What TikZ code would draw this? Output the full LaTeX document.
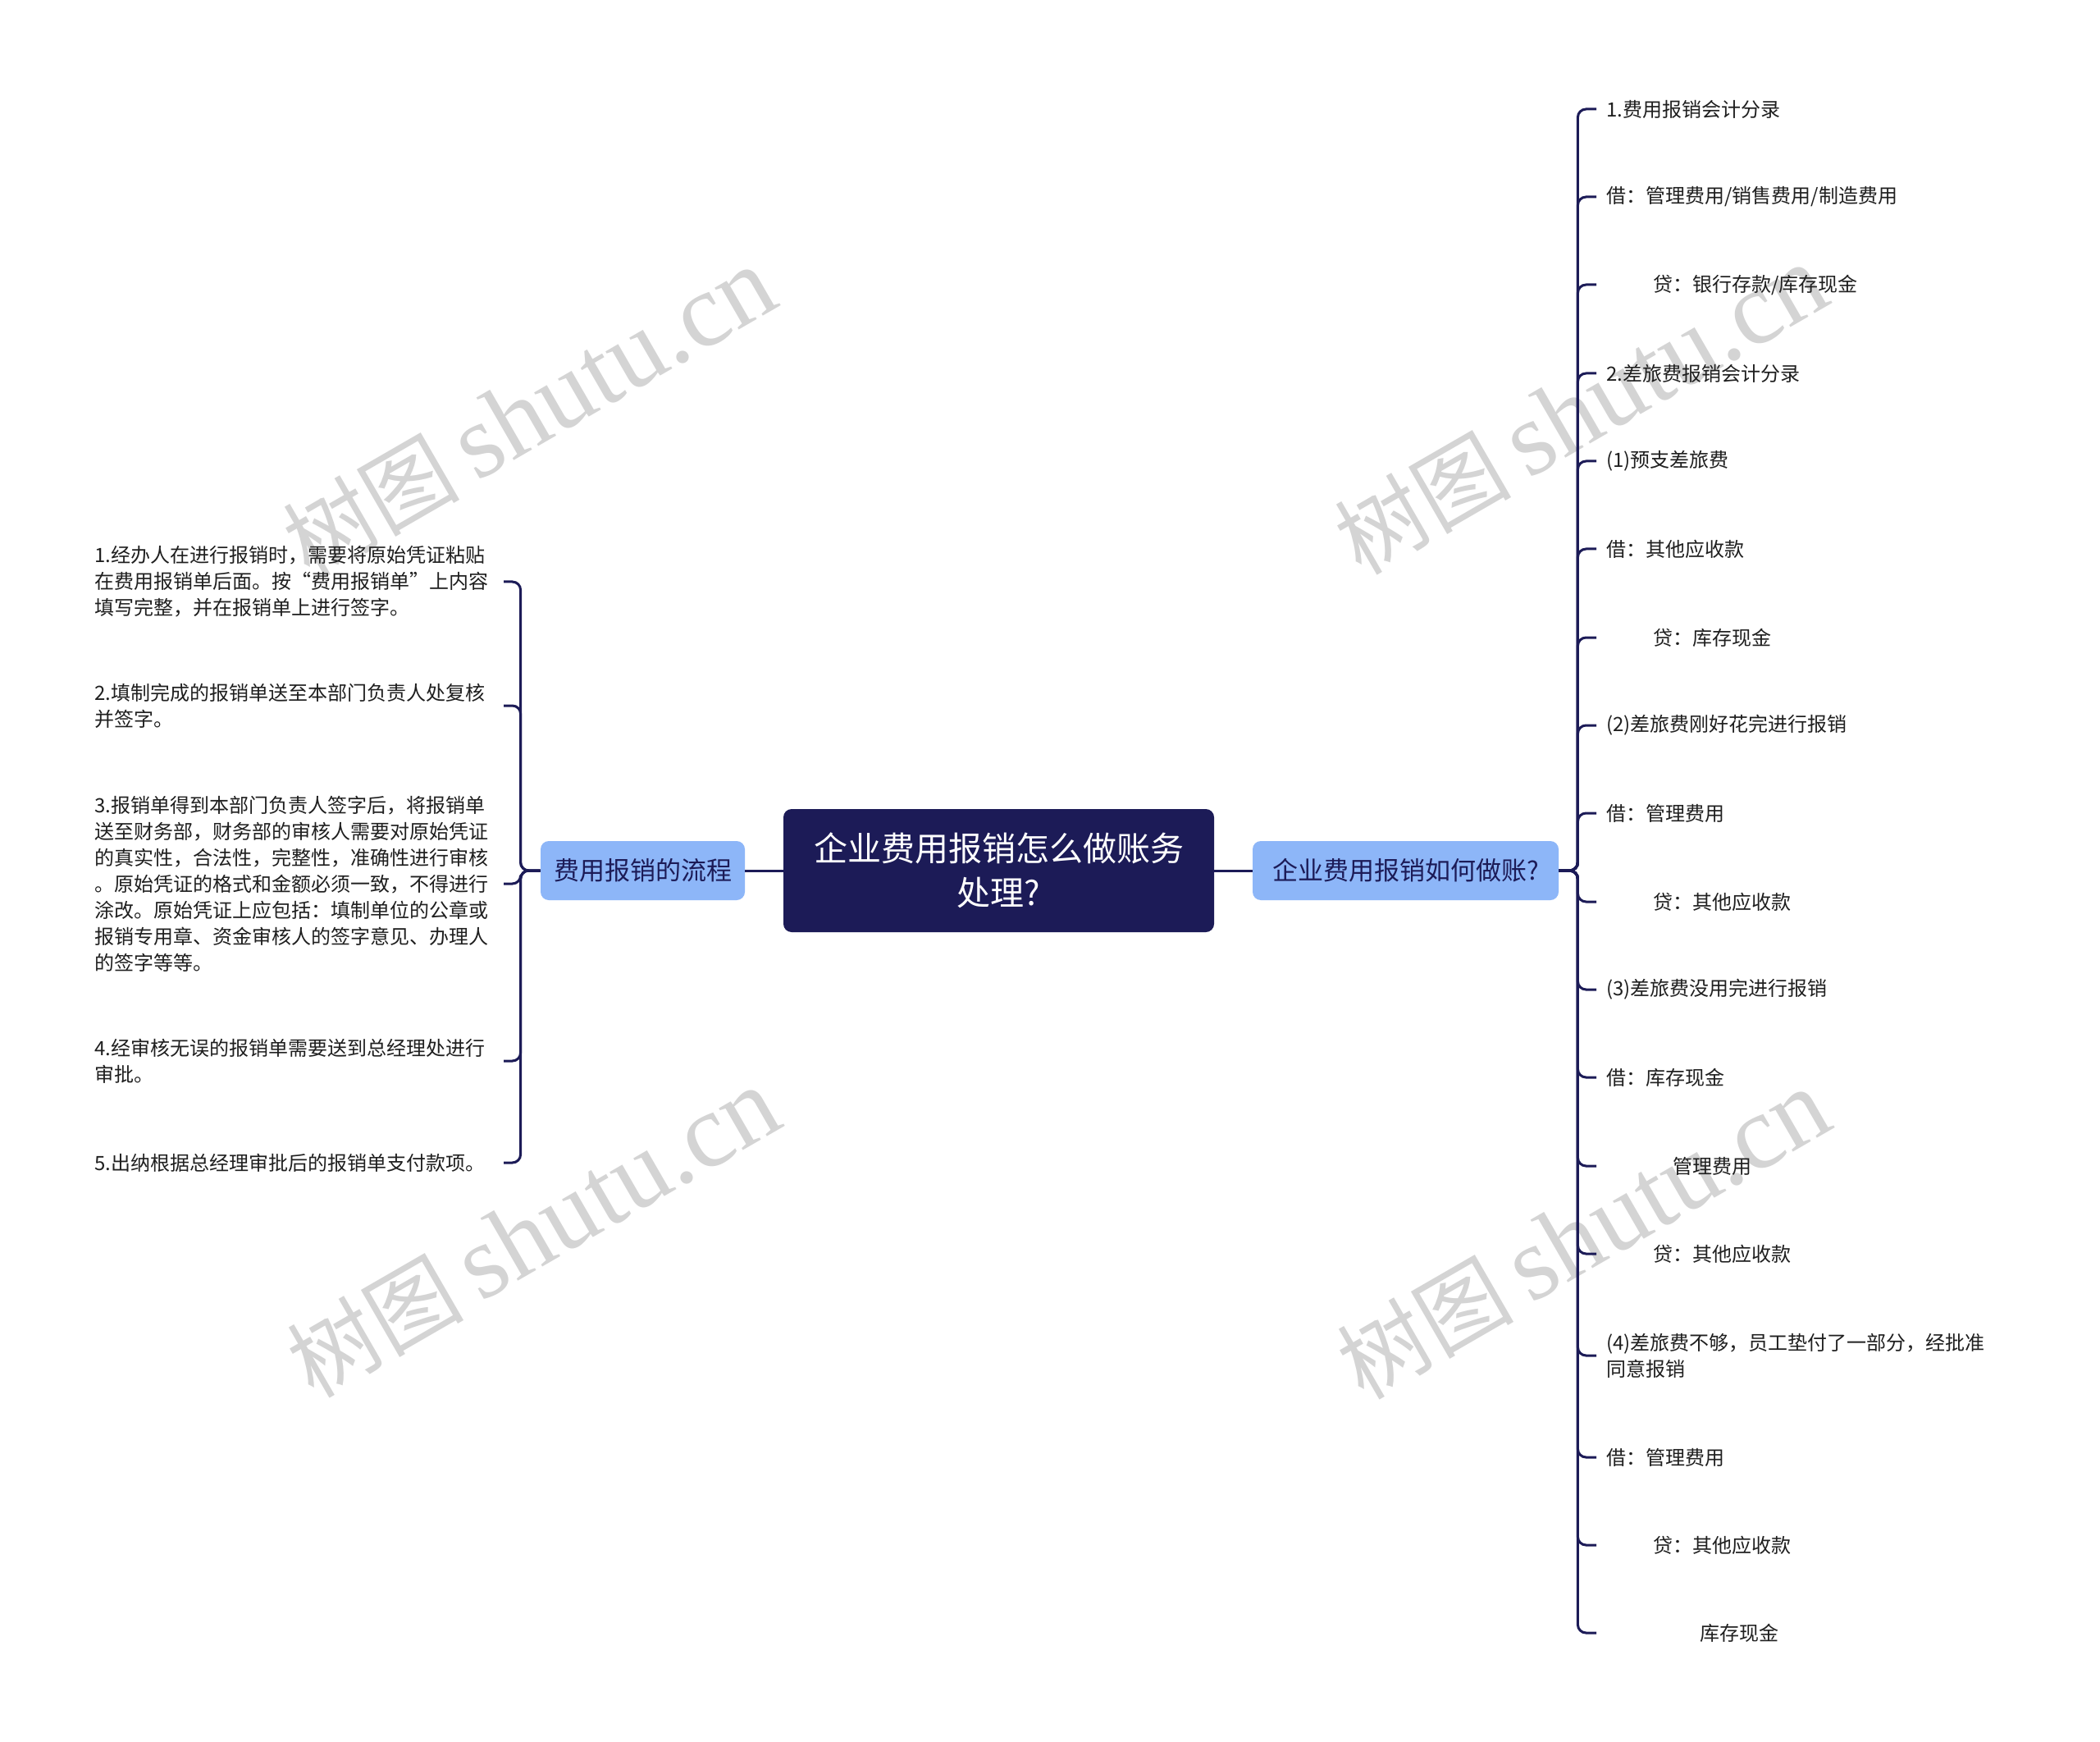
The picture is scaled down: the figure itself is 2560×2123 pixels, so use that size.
\documentclass[tikz,border=0pt]{standalone}
\usepackage{fontspec}
\newfontfamily\cjk{Noto Sans CJK SC}
\newfontfamily\wmlat{Liberation Serif}
\definecolor{navy}{HTML}{1C1B57}
\definecolor{lblue}{HTML}{8DB6F8}
\definecolor{txt}{HTML}{1F1F1F}
\definecolor{wmgray}{HTML}{D4D4D4}
\begin{document}
\begin{tikzpicture}[x=0.5pt,y=-0.5pt,
  conn/.style={draw=navy, line width=1.5pt, rounded corners=5pt},
  rootbox/.style={fill=navy, rounded corners=5pt, text=white, font=\cjk\fontsize{20.5}{27}\selectfont, align=center, minimum width=262.5pt, minimum height=75pt, inner sep=0pt},
  topicbox/.style={fill=lblue, rounded corners=5pt, text=navy, font=\cjk\fontsize{15.5}{20}\selectfont, minimum height=36pt, inner sep=0pt},
  leftleaf/.style={anchor=east, text=txt, font=\cjk\fontsize{12}{16}\selectfont, align=left, text width=242pt, inner xsep=7pt, inner ysep=2pt},
  rightleaf/.style={anchor=west, text=txt, font=\cjk\fontsize{12}{16}\selectfont, align=left, inner xsep=6pt, inner ysep=2pt},
  wmark/.style={text=wmgray, rotate=30, inner sep=0pt}
]
\useasboundingbox (0,0) rectangle (2560,2123);
\fill[white] (0,0) rectangle (2560,2123);

% watermarks (background)
\node[wmark] (wm1) at (645,503) {{\cjk\fontsize{54}{54}\selectfont 树图}\hspace{10pt}{\wmlat\fontsize{64}{64}\selectfont shutu.cn}};
\node[wmark] (wm2) at (1927,500) {{\cjk\fontsize{54}{54}\selectfont 树图}\hspace{10pt}{\wmlat\fontsize{64}{64}\selectfont shutu.cn}};
\node[wmark] (wm3) at (650,1503) {{\cjk\fontsize{54}{54}\selectfont 树图}\hspace{10pt}{\wmlat\fontsize{64}{64}\selectfont shutu.cn}};
\node[wmark] (wm4) at (1930,1505) {{\cjk\fontsize{54}{54}\selectfont 树图}\hspace{10pt}{\wmlat\fontsize{64}{64}\selectfont shutu.cn}};

% main nodes
\node[rootbox] (root) at (1217.5,1061) {企业费用报销怎么做账务\\处理?};
\node[topicbox, minimum width=186.5pt] (R) at (1713.5,1061) {企业费用报销如何做账?};
\node[topicbox, minimum width=124.5pt] (L) at (783.5,1061) {费用报销的流程};

\draw[conn] (root.east) -- (R.west);
\draw[conn] (root.west) -- (L.east);

% left leaves
\node[leftleaf] (l1) at (614,709) {1.经办人在进行报销时，需要将原始凭证粘贴\\在费用报销单后面。按“费用报销单”上内容\\填写完整，并在报销单上进行签字。};
\node[leftleaf] (l2) at (614,860) {2.填制完成的报销单送至本部门负责人处复核\\并签字。};
\node[leftleaf] (l3) at (614,1077) {3.报销单得到本部门负责人签字后，将报销单\\送至财务部，财务部的审核人需要对原始凭证\\的真实性，合法性，完整性，准确性进行审核\\。原始凭证的格式和金额必须一致，不得进行\\涂改。原始凭证上应包括：填制单位的公章或\\报销专用章、资金审核人的签字意见、办理人\\的签字等等。};
\node[leftleaf] (l4) at (614,1293) {4.经审核无误的报销单需要送到总经理处进行\\审批。};
\node[leftleaf] (l5) at (614,1417) {5.出纳根据总经理审批后的报销单支付款项。};

\foreach \n in {l1,l2,l3,l4,l5}
  \draw[conn] (L.west) -- ++(-24,0) |- (\n.east);

% right leaves
\node[rightleaf] (r0) at (1946,133) {1.费用报销会计分录};
\node[rightleaf] (r1) at (1946,240) {借：管理费用/销售费用/制造费用};
\node[rightleaf] (r2) at (1946,347) {\hspace*{28.5pt}贷：银行存款/库存现金};
\node[rightleaf] (r3) at (1946,455) {2.差旅费报销会计分录};
\node[rightleaf] (r4) at (1946,562) {(1)预支差旅费};
\node[rightleaf] (r5) at (1946,669) {借：其他应收款};
\node[rightleaf] (r6) at (1946,777) {\hspace*{28.5pt}贷：库存现金};
\node[rightleaf] (r7) at (1946,884) {(2)差旅费刚好花完进行报销};
\node[rightleaf] (r8) at (1946,991) {借：管理费用};
\node[rightleaf] (r9) at (1946,1099) {\hspace*{28.5pt}贷：其他应收款};
\node[rightleaf] (r10) at (1946,1206) {(3)差旅费没用完进行报销};
\node[rightleaf] (r11) at (1946,1313) {借：库存现金};
\node[rightleaf] (r12) at (1946,1421) {\hspace*{40.5pt}管理费用};
\node[rightleaf] (r13) at (1946,1528) {\hspace*{28.5pt}贷：其他应收款};
\node[rightleaf] (r14) at (1946,1652) {(4)差旅费不够，员工垫付了一部分，经批准\\同意报销};
\node[rightleaf] (r15) at (1946,1776) {借：管理费用};
\node[rightleaf] (r16) at (1946,1883) {\hspace*{28.5pt}贷：其他应收款};
\node[rightleaf] (r17) at (1946,1990) {\hspace*{57pt}库存现金};

\foreach \n in {r0,r1,r2,r3,r4,r5,r6,r7,r8,r9,r10,r11,r12,r13,r14,r15,r16,r17}
  \draw[conn] (R.east) -- ++(23,0) |- (\n.west);
\end{tikzpicture}
\end{document}
